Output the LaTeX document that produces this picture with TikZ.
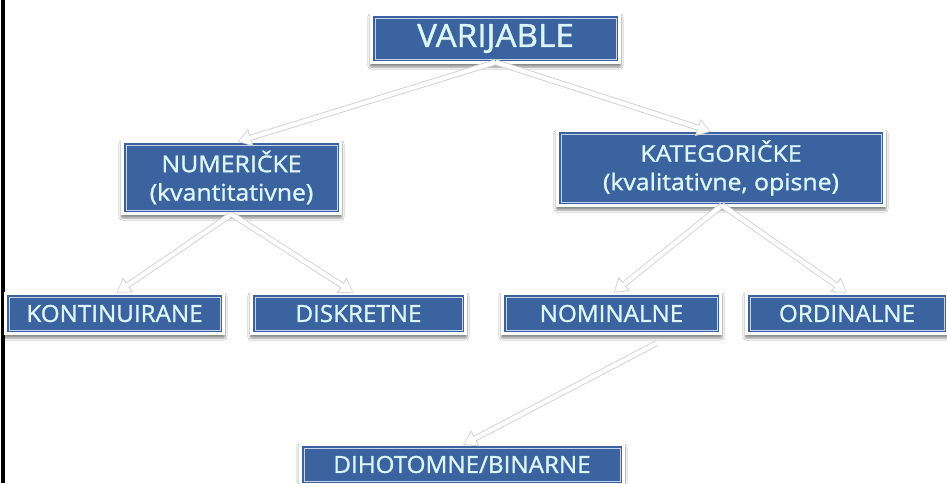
\documentclass[tikz,border=0pt]{standalone}
\usepackage{fontspec}
\setmainfont{Open Sans}
\newfontfamily\fbig{Open Sans}[FakeStretch=1.04, FakeBold=1.2]
\newfontfamily\fmid{Open Sans}[FakeStretch=1.08, FakeBold=1.2]
\newfontfamily\fsmall{Open Sans}[FakeStretch=1.03, FakeBold=1.2]
\usetikzlibrary{arrows.meta,calc,shadows.blur}
\definecolor{boxblue}{HTML}{3A63A0}
\definecolor{boxtext}{HTML}{DDF6FA}
\definecolor{inline}{HTML}{C3D3EC}
\tikzset{
  box/.style 2 args={rectangle, inner sep=0pt, minimum width=#1, minimum height=#2,
    fill=white,
    blur shadow={shadow xshift=0pt, shadow yshift=-3pt, shadow blur steps=6, shadow opacity=45, shadow blur extra rounding=1pt},
    path picture={
      \fill[boxblue] ([shift={(3pt,3pt)}]path picture bounding box.south west) rectangle ([shift={(-3pt,-3pt)}]path picture bounding box.north east);
      \draw[inline, line width=0.7pt] ([shift={(5pt,5pt)}]path picture bounding box.south west) rectangle ([shift={(-5pt,-5pt)}]path picture bounding box.north east);
    },
    text=boxtext, align=center},
  big/.style={font=\fbig\fontsize{32}{34}\selectfont},
  mid/.style={font=\fmid\fontsize{23}{28.5}\selectfont},
  small/.style={font=\fsmall\fontsize{23.5}{25}\selectfont},
  conn/.style={draw=black!18, line width=6pt, -{Triangle[width=17pt,length=14pt]},
    postaction={draw=white, line width=4.2pt, -{Triangle[width=13.5pt,length=11.5pt]}, shorten >=1.4pt}}
}
\begin{document}
\begin{tikzpicture}[x=1pt,y=-1pt]
\useasboundingbox (0,0) rectangle (947,483);
\fill[white] (0,0) rectangle (947,483);
\fill[black] (1,0) rectangle (5,483);

\node[box={251pt}{51pt}, big] (var) at (495.5,38.5) {VARIJABLE};
\node[box={221pt}{75pt}, mid] (num) at (231.5,177.5) {NUMERIČKE\\(kvantitativne)};
\node[box={330pt}{78pt}, mid] (kat) at (721,168) {KATEGORIČKE\\(kvalitativne, opisne)};
\node[box={221pt}{43pt}, small] (kont) at (114.5,313.5) {KONTINUIRANE};
\node[box={217pt}{43pt}, small] (disk) at (358.5,313.5) {DISKRETNE};
\node[box={221pt}{43pt}, small] (nom) at (611.5,313.5) {NOMINALNE};
\node[box={204pt}{43pt}, small] (ord) at (847,313.5) {ORDINALNE};
\node[box={326pt}{43pt}, small] (dih) at (462,464.5) {DIHOTOMNE/BINARNE};

\draw[conn] ($(var.south)+(0,-2)$) -- ($(num.north)+(6,2)$);
\draw[conn] ($(var.south)+(0,-2)$) -- ($(kat.north)+(-10,3)$);
\draw[conn] ($(num.south)+(0,-1)$) -- ($(kont.north)+(2,1)$);
\draw[conn] ($(num.south)+(0,-1)$) -- ($(disk.north)+(-5,1)$);
\draw[conn] ($(kat.south)+(1,-2)$) -- ($(nom.north)+(2,1)$);
\draw[conn] ($(kat.south)+(1,-2)$) -- ($(ord.north)+(0,1)$);
\draw[conn] ($(nom.south)+(45,8)$) -- ($(dih.north)+(1,2)$);
\end{tikzpicture}
\end{document}
